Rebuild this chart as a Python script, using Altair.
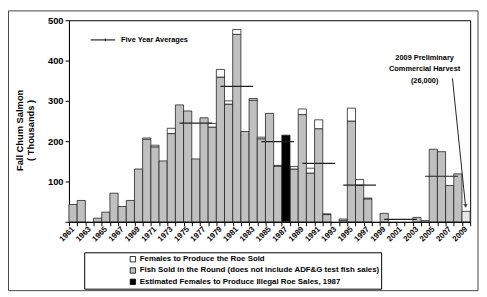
import altair as alt
import pandas as pd

years = [str(y) for y in range(1961, 2010)]
round_fish = [43, 53, 0, 9, 24, 71, 38, 53, 131, 205, 186, 151, 219, 290, 275, 156, 258, 235, 359, 292,
              465, 224, 302, 206, 269, 138, 0, 131, 266, 121, 231, 18, 0, 4, 250, 91, 57, 0, 21, 0,
              0, 0, 11, 3, 180, 174, 90, 119, 0]
roe_sold = [0, 0, 0, 0, 0, 0, 0, 0, 0, 3, 4, 0, 13, 0, 0, 0, 0, 9, 19, 8,
            12, 0, 4, 4, 0, 2, 0, 6, 14, 12, 22, 2, 0, 3, 32, 14, 2, 0, 0, 0,
            0, 0, 0, 0, 0, 0, 0, 0, 0]
illegal_year = "1987"
illegal_value = 215
prelim_year = "2009"
prelim_value = 26

avg_start = ["1974", "1979", "1984", "1989", "1994", "1999", "2004"]
avg_end = ["1978", "1983", "1988", "1993", "1998", "2003", "2008"]
avg_value = [245, 336, 199, 145, 91, 6, 113]

S_ROE = "Females to Produce the Roe Sold"
S_ROUND = "Fish Sold in the Round (does not include ADF&G test fish sales)"
S_ILL = "Estimated Females to Produce Illegal Roe Sales, 1987"
S_PRE = "2009 Preliminary"

rows = []
for y, r, e in zip(years, round_fish, roe_sold):
    if r:
        rows.append({"year": y, "series": S_ROUND, "value": r, "ord": 1})
    if e:
        rows.append({"year": y, "series": S_ROE, "value": e, "ord": 2})
rows.append({"year": illegal_year, "series": S_ILL, "value": illegal_value, "ord": 3})
rows.append({"year": prelim_year, "series": S_PRE, "value": prelim_value, "ord": 1})
df = pd.DataFrame(rows)

avg_df = pd.DataFrame({"start": avg_start, "end": avg_end, "value": avg_value})
one = pd.DataFrame({"a": [0]})

FONT = "Liberation Sans"

xscale = alt.Scale(domain=years, paddingInner=0, paddingOuter=0)
yscale = alt.Scale(domain=[0, 500])

bars = alt.Chart(df).mark_bar(stroke="#222", strokeWidth=0.8).encode(
    x=alt.X("year:N", scale=xscale, sort=years,
            axis=alt.Axis(title=None, labelAngle=-45, labelAlign="right", labelBaseline="middle",
                          tickBand="extent",
                          labelExpr="toNumber(datum.value) % 2 == 1 ? datum.value : ''",
                          labelFont=FONT, labelFontWeight="bold", labelFontSize=8,
                          labelColor="black", tickColor="black", domainColor="black",
                          tickSize=4, labelPadding=2)),
    y=alt.Y("value:Q", stack="zero", scale=yscale,
            axis=alt.Axis(title=None, values=list(range(0, 501, 50)), grid=False,
                          labelExpr="datum.value == 0 ? '' : datum.value",
                          labelFont=FONT, labelFontWeight="bold", labelFontSize=9.5,
                          labelColor="black", tickColor="black", domainColor="black",
                          tickSize=4, labelPadding=2)),
    fill=alt.Color("series:N",
                   scale=alt.Scale(domain=[S_ROE, S_ROUND, S_ILL, S_PRE],
                                   range=["white", "#c0c0c0", "black", "#e6e6e6"]),
                   legend=alt.Legend(title=None, values=[S_ROE, S_ROUND, S_ILL],
                                     orient="none", legendX=61, legendY=239, padding=0,
                                     symbolType="square", symbolSize=30,
                                     symbolStrokeColor="black", symbolStrokeWidth=0.8,
                                     labelFont=FONT, labelFontWeight="bold", labelFontSize=8,
                                     labelColor="black", labelLimit=0,
                                     rowPadding=1.5, labelOffset=3)),
    order=alt.Order("ord:Q"),
)

avgs = alt.Chart(avg_df).mark_rule(color="#222", strokeWidth=1.2).encode(
    x=alt.X("start:N", scale=xscale, sort=years),
    x2="end:N",
    y=alt.Y("value:Q", scale=yscale),
)

frame = alt.Chart(one).mark_rect(fill="transparent", stroke="#444", strokeWidth=1).encode(
    x=alt.value(-61.5), x2=alt.value(416), y=alt.value(-9.5), y2=alt.value(275))

legbox = alt.Chart(one).mark_rect(fill="white", stroke="#000000", strokeWidth=1,
                                  opacity=1).encode(
    x=alt.value(16), x2=alt.value(318), y=alt.value(236.5), y2=alt.value(273.5))

leg_line = alt.Chart(one).mark_rule(color="#222", strokeWidth=1.2).encode(
    x=alt.value(22), x2=alt.value(47), y=alt.value(20))
leg_tick = alt.Chart(one).mark_rule(color="#222", strokeWidth=1).encode(
    x=alt.value(37), y=alt.value(18.5), y2=alt.value(21.5))
leg_text = alt.Chart(one).mark_text(text="Five Year Averages", font=FONT, fontWeight="bold",
                                    fontSize=7.5, align="left", baseline="middle",
                                    color="black").encode(x=alt.value(53), y=alt.value(20))

ytitle1 = alt.Chart(one).mark_text(text="Fall Chum Salmon", font=FONT, fontWeight="bold",
                                   fontSize=9.5, angle=270, align="center", baseline="middle",
                                   color="black").encode(x=alt.value(-49.5), y=alt.value(112))
ytitle2 = alt.Chart(one).mark_text(text="( Thousands )", font=FONT, fontWeight="bold",
                                   fontSize=9.5, angle=270, align="center", baseline="middle",
                                   color="black").encode(x=alt.value(-38.5), y=alt.value(112))

annot = alt.Chart(one).mark_text(text=["2009 Preliminary", "Commercial Harvest", "(26,000)"],
                                 font=FONT, fontWeight="bold", fontSize=7.5, align="center",
                                 baseline="top", lineHeight=11.5, color="black").encode(
    x=alt.value(361.7), y=alt.value(34.5))
arrow = alt.Chart(one).mark_rule(color="#222", strokeWidth=1).encode(
    x=alt.value(390), y=alt.value(59), x2=alt.value(403.3), y2=alt.value(189))
arrowhead = alt.Chart(one).mark_point(shape="triangle-down", filled=True, color="#222",
                                      size=22, angle=354).encode(
    x=alt.value(403.4), y=alt.value(189))

chart = alt.layer(frame, legbox, bars, avgs, leg_line, leg_tick, leg_text, ytitle1, ytitle2,
                  annot, arrow, arrowhead).properties(
    width=408, height=205,
    autosize=alt.AutoSizeParams(type="none"),
    padding={"left": 62, "top": 10, "right": 9, "bottom": 74},
    background="white",
).configure_view(stroke="black", strokeWidth=1)

chart.save("out.html", embed_options={"renderer": "svg", "actions": False})
